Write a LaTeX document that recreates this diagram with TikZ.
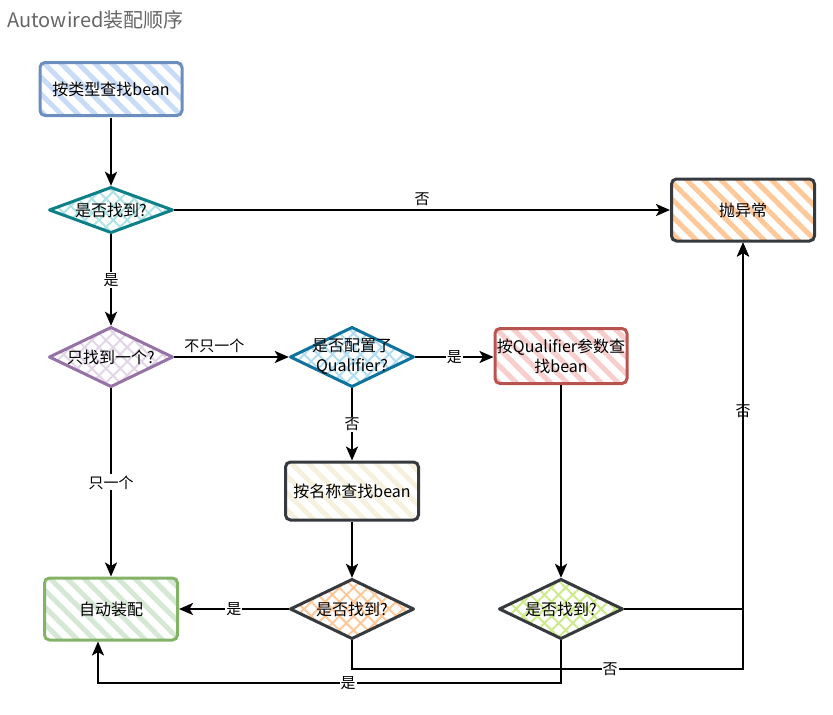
\documentclass[tikz,border=0pt]{standalone}
\usepackage{fontspec}
\setmainfont{Noto Sans CJK SC}
\usetikzlibrary{arrows.meta,patterns.meta}

\definecolor{blueline}{HTML}{6C8EBF}
\definecolor{bluefill}{HTML}{C9DCF7}
\definecolor{tealline}{HTML}{0E8088}
\definecolor{tealfill}{HTML}{B0E3E6}
\definecolor{purpleline}{HTML}{9673A6}
\definecolor{purplefill}{HTML}{E1D5E7}
\definecolor{cyanline}{HTML}{10739E}
\definecolor{cyanfill}{HTML}{B1DDF0}
\definecolor{redline}{HTML}{B85450}
\definecolor{redfill}{HTML}{F8CECC}
\definecolor{darkline}{HTML}{36393D}
\definecolor{orangefill}{HTML}{FFC899}
\definecolor{creamfill}{HTML}{F5F1DE}
\definecolor{greenline}{HTML}{82B366}
\definecolor{greenfill}{HTML}{D5E8D4}
\definecolor{limefill}{HTML}{CDEB8B}
\definecolor{titlegray}{HTML}{666666}

\tikzset{
    stepbox/.style 2 args={rectangle, rounded corners=5pt, draw=#1, line width=3pt,
        pattern={Lines[angle=-45,distance=12pt,line width=5pt]}, pattern color=#2,
        align=center, font=\fontsize{16}{20}\selectfont},
    decision/.style 2 args={rectangle, minimum width=126pt, minimum height=62pt,
        inner sep=0pt, align=center, font=\fontsize{16}{20}\selectfont,
        path picture={
            \fill[pattern={Hatch[angle=45,distance=10pt,line width=2pt]}, pattern color=#2]
                (path picture bounding box.north) -- (path picture bounding box.east)
                -- (path picture bounding box.south) -- (path picture bounding box.west) -- cycle;
            \draw[#1, line width=3pt, line join=round]
                ([yshift=-1.5pt]path picture bounding box.north) -- ([xshift=-1.5pt]path picture bounding box.east)
                -- ([yshift=1.5pt]path picture bounding box.south) -- ([xshift=1.5pt]path picture bounding box.west) -- cycle;
        }},
    flow/.style={line width=2.3pt, -{Stealth[length=14pt,width=12pt,inset=3.5pt]}},
    tag/.style={font=\fontsize{15}{18}\selectfont, fill=white, inner sep=1pt},
}

\begin{document}
\begin{tikzpicture}[x=1pt,y=-1pt]
    \useasboundingbox (0,0) rectangle (833,715);

    \node[anchor=west, text=titlegray, font=\fontsize{20}{24}\selectfont] (title) at (4,20) {Autowired装配顺序};

    % boxes
    \node[stepbox={blueline}{bluefill}, minimum width=142pt, minimum height=53pt] (find) at (111,89) {按类型查找bean};
    \node[stepbox={darkline}{orangefill}, minimum width=143pt, minimum height=62pt] (throwex) at (743,210) {抛异常};
    \node[stepbox={redline}{redfill}, minimum width=132pt, minimum height=55pt, inner sep=1pt] (qualfind) at (561,356) {按Qualifier参数查\\找bean};
    \node[stepbox={darkline}{creamfill}, minimum width=133pt, minimum height=58pt] (namefind) at (352,491) {按名称查找bean};
    \node[stepbox={greenline}{greenfill}, minimum width=133pt, minimum height=62pt] (autowire) at (111,609) {自动装配};

    % decisions
    \node[decision={tealline}{tealfill}, minimum height=48pt] (found) at (111,210) {是否找到?};
    \node[decision={purpleline}{purplefill}] (onlyone) at (111,357) {只找到一个?};
    \node[decision={cyanline}{cyanfill}] (qualcfg) at (352,357) {是否配置了\\Qualifier?};
    \node[decision={darkline}{orangefill}] (foundname) at (352,609) {是否找到?};
    \node[decision={darkline}{limefill}] (foundqual) at (561,609) {是否找到?};

    \coordinate (nojoin) at (743,669);
    \coordinate (yesjoin) at (98,683);

    % connectors
    \draw[flow] (find) -- (found);
    \draw[flow] (found) -- node[above, font=\fontsize{15}{18}\selectfont] {否} (throwex);
    \draw[flow] (found) -- node[tag] {是} (onlyone);
    \draw[flow] (onlyone) -- node[above, pos=0.35, font=\fontsize{15}{18}\selectfont] {不只一个} (qualcfg);
    \draw[flow] (qualcfg) -- node[tag] {是} (qualcfg.east -| qualfind.west);
    \draw[flow] (qualcfg) -- node[tag] {否} (namefind);
    \draw[flow] (namefind) -- (foundname);
    \draw[flow] (foundname) -- node[tag] {是} (autowire);
    \draw[flow] (onlyone) -- node[tag] {只一个} (autowire);
    \draw[flow] (qualfind) -- (foundqual);
    \draw[flow] (foundqual) -| node[tag, pos=0.77] {否} (throwex.south);
    \draw[flow] (foundname.south) |- node[tag, pos=0.83] {否} (nojoin) -- (throwex.south);
    \draw[flow] (foundqual.south) |- node[tag, pos=0.73] {是} (yesjoin) -- (yesjoin |- autowire.south);
\end{tikzpicture}
\end{document}
